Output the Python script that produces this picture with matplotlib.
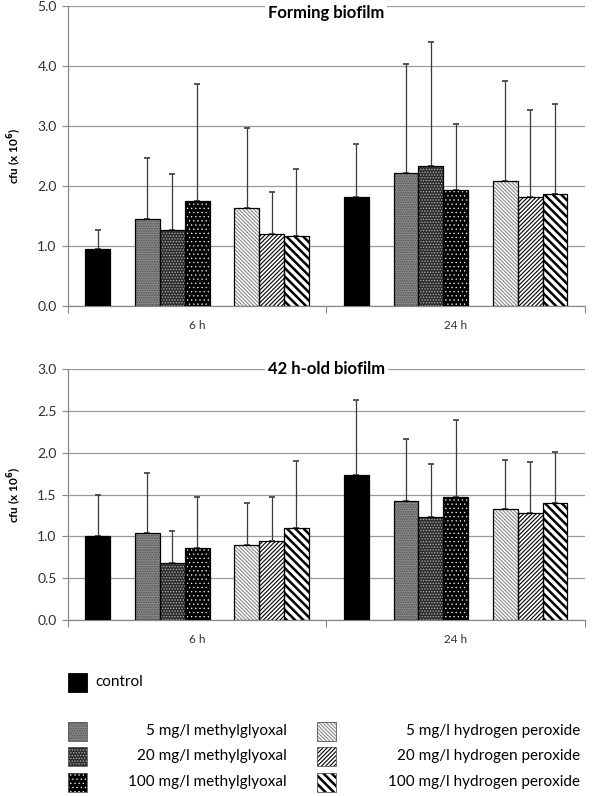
import numpy as np
import matplotlib.pyplot as plt
from matplotlib.patches import Rectangle

plt.rcParams.update({
    'font.family': ['Lato', 'DejaVu Sans'],
    'hatch.linewidth': 0.9,
})

categories = ['6 h', '24 h']
series = ['control',
          '5 mg/l methylglyoxal', '20 mg/l methylglyoxal', '100 mg/l methylglyoxal',
          '5 mg/l hydrogen peroxide', '20 mg/l hydrogen peroxide', '100 mg/l hydrogen peroxide']

# Forming biofilm: mean and SD, per series, [6 h, 24 h]
forming_mean = [[0.95, 1.82], [1.45, 2.22], [1.27, 2.34], [1.75, 1.93],
                [1.63, 2.08], [1.20, 1.82], [1.17, 1.86]]
forming_sd = [[0.32, 0.88], [1.02, 1.81], [0.93, 2.06], [1.95, 1.10],
              [1.34, 1.67], [0.70, 1.44], [1.11, 1.51]]

# 42 h-old biofilm
old_mean = [[1.00, 1.74], [1.04, 1.42], [0.68, 1.23], [0.86, 1.47],
            [0.90, 1.33], [0.94, 1.28], [1.10, 1.40]]
old_sd = [[0.50, 0.89], [0.72, 0.74], [0.38, 0.64], [0.61, 0.92],
          [0.50, 0.58], [0.53, 0.61], [0.80, 0.61]]

# slot in the cluster (1 and 5 are left empty in the original)
slots = [0, 2, 3, 4, 6, 7, 8]

# (facecolor, hatch, hatch colour, hatch linewidth)
styles = [
    ('black', None, None, 0),
    ('#8a8a8a', '.......', '#505050', 0.8),
    ('#2e2e2e', '......', '#b0b0b0', 0.6),
    ('black', '....', 'white', 0.4),
    ('white', '\\' * 9, '#8a8a8a', 0.8),
    ('white', '/' * 8, 'black', 0.8),
    ('white', '\\' * 4, 'black', 1.8),
]

W = 0.096


def hatched(draw, hlw):
    with plt.rc_context({'hatch.linewidth': hlw}):
        art = draw()
    patches = art.patches if hasattr(art, 'patches') else [art]
    for p in patches:
        if hasattr(p, 'set_hatch_linewidth'):
            p.set_hatch_linewidth(hlw)
    return art


def draw_panel(ax, means, sds, title, ymax, ystep, title_y):
    x = np.arange(len(categories))
    for k, (m, s) in enumerate(zip(means, sds)):
        pos = x + (slots[k] - 4) * W
        fc, hatch, hc, hlw = styles[k]
        if hatch:
            hatched(lambda: ax.bar(pos, m, W, color=fc, hatch=hatch, edgecolor=hc,
                                   linewidth=0, zorder=3), hlw)
            ax.bar(pos, m, W, fill=False, edgecolor='black', linewidth=0.9, zorder=4)
        else:
            ax.bar(pos, m, W, color=fc, edgecolor='black', linewidth=0.9, zorder=3)
        ax.errorbar(pos, m, yerr=[np.zeros(len(m)), s], fmt='none', ecolor='#3a3a3a',
                    elinewidth=0.9, capsize=2.5, capthick=1.2, zorder=2)

    ax.set_xlim(-0.5, 1.5)
    ax.set_ylim(0, ymax)
    ax.set_yticks(np.arange(0, ymax + 1e-9, ystep))
    ax.yaxis.set_major_formatter(plt.FormatStrFormatter('%.1f'))
    ax.tick_params(axis='y', length=4, color='#888888', labelsize=10, labelcolor='#303030', pad=4)
    ax.set_xticks([-0.5, 0.5, 1.5])
    ax.set_xticklabels([])
    ax.tick_params(axis='x', length=5, color='#888888')
    ax.set_xticks([0, 1], minor=True)
    ax.set_xticklabels(categories, minor=True)
    ax.tick_params(axis='x', which='minor', length=0, labelsize=8.5, labelcolor='#303030', pad=10)
    ax.grid(axis='y', color='#9a9a9a', linewidth=0.9, zorder=0)
    ax.set_axisbelow(True)
    for sp in ['top', 'right']:
        ax.spines[sp].set_visible(False)
    for sp in ['left', 'bottom']:
        ax.spines[sp].set_color('#888888')
        ax.spines[sp].set_linewidth(0.9)
    ax.set_ylabel('cfu (x 10$^{\\mathbf{6}}$)', fontsize=8.5, fontweight='bold', labelpad=10)
    ax.text(0.5, title_y, title, transform=ax.transAxes, ha='center', va='center',
            fontsize=12, fontweight='bold', zorder=6,
            bbox=dict(facecolor='white', edgecolor='none', pad=2))


fig = plt.figure(figsize=(6.0, 7.96), dpi=100)
ax1 = fig.add_axes([0.113, 0.6156, 0.862, 0.377])
ax2 = fig.add_axes([0.113, 0.2211, 0.862, 0.315])

draw_panel(ax1, forming_mean, forming_sd, 'Forming biofilm', 5.0, 1.0, 0.975)
draw_panel(ax2, old_mean, old_sd, '42 h-old biofilm', 3.0, 0.5, 1.0)
ax1.yaxis.set_label_coords(-0.085, 0.5)
ax2.yaxis.set_label_coords(-0.085, 0.5)

# legend drawn in pixel coordinates
lg = fig.add_axes([0, 0, 1, 1], zorder=-1)
lg.set_xlim(0, 600)
lg.set_ylim(796, 0)
lg.axis('off')

SW = 19


def swatch(x0, yc, k):
    fc, hatch, hc, hlw = styles[k]
    if hatch:
        hatched(lambda: lg.add_patch(Rectangle((x0, yc - SW / 2), SW, SW, facecolor=fc,
                                               hatch=hatch, edgecolor=hc, linewidth=0)), hlw)
        lg.add_patch(Rectangle((x0, yc - SW / 2), SW, SW, fill=False,
                               edgecolor='#555555', linewidth=0.6))
    else:
        lg.add_patch(Rectangle((x0, yc - SW / 2), SW, SW, facecolor=fc,
                               edgecolor='black', linewidth=0.6))


swatch(68, 682, 0)
lg.text(95, 682, series[0], ha='left', va='center', fontsize=11)
rows = [731, 756, 782]
for i in range(3):
    swatch(68, rows[i], 1 + i)
    lg.text(287, rows[i], series[1 + i], ha='right', va='center', fontsize=11)
    swatch(317, rows[i], 4 + i)
    lg.text(580, rows[i], series[4 + i], ha='right', va='center', fontsize=11)

fig.savefig('out.png', dpi=100)
